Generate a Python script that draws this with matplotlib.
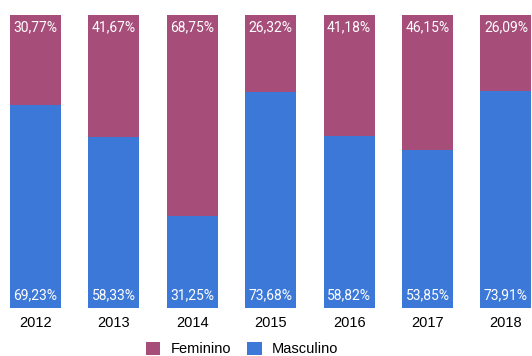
import matplotlib.pyplot as plt
import numpy as np

# data
years = ['2012', '2013', '2014', '2015', '2016', '2017', '2018']
feminino = [30.77, 41.67, 68.75, 26.32, 41.18, 46.15, 26.09]
masculino = [69.23, 58.33, 31.25, 73.68, 58.82, 53.85, 73.91]

c_fem = '#a64d79'
c_mas = '#3c78d8'

fig = plt.figure(figsize=(5.32, 3.56), dpi=100)
ax = fig.add_axes([0, 1 - 308 / 356, 1, (308 - 15) / 356])

x = np.arange(len(years))
w = 0.65
ax.bar(x, masculino, w, color=c_mas, label='Masculino')
ax.bar(x, feminino, w, bottom=masculino, color=c_fem, label='Feminino')

fmt = lambda v: f'{v:.2f}%'.replace('.', ',')
for i in x:
    ax.annotate(fmt(feminino[i]), (i, 100), xytext=(0, -8.8), textcoords='offset points',
                ha='center', va='center', color='white', fontsize=10, family='Roboto')
    ax.annotate(fmt(masculino[i]), (i, 0), xytext=(0, 8.8), textcoords='offset points',
                ha='center', va='center', color='white', fontsize=10, family='Roboto')

ax.set_xlim(-35.5 / 78.4, (532 - 35.5) / 78.4)
ax.set_ylim(0, 100)
ax.set_xticks(x)
ax.set_xticklabels(years, fontsize=10.5, family='Liberation Sans')
ax.tick_params(length=0, pad=6)
ax.set_yticks([])
for s in ax.spines.values():
    s.set_visible(False)

h, l = ax.get_legend_handles_labels()
fig.legend(h[::-1], l[::-1], loc='center', bbox_to_anchor=(0.455, 1 - 349 / 356), ncol=2,
           frameon=False, prop={'family': 'Liberation Sans', 'size': 10.5},
           handlelength=1.0, handleheight=1.0, columnspacing=1.1, handletextpad=0.7)

fig.savefig('out.png', dpi=100)
